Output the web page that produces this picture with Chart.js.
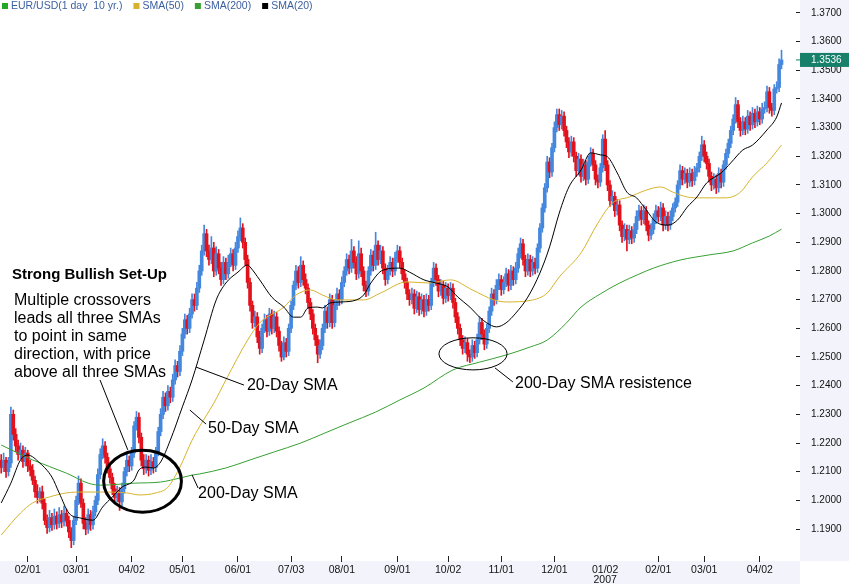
<!DOCTYPE html>
<html><head><meta charset="utf-8">
<script src="https://cdn.jsdelivr.net/npm/chart.js@4.4.1/dist/chart.umd.min.js"></script>
<style>html,body{margin:0;padding:0;background:#fff;overflow:hidden}canvas{display:block}</style>
</head><body>
<canvas id="c" width="849" height="584"></canvas>
<script>
// ---- data (EUR/USD daily candles, index = trading day) ----
const opens = [
1.2140,1.2115,1.2140,1.2100,1.2130,1.2300,1.2230,1.2190,1.2160,1.2175,
1.2135,1.2165,1.2120,1.2105,1.2070,1.2030,1.2010,1.2030,1.1990,1.1930,
1.1905,1.1940,1.1915,1.1945,1.1920,1.1950,1.1925,1.1955,1.1930,1.1890,
1.1860,1.1930,1.2000,1.2060,1.1990,1.1920,1.1900,1.1950,1.1915,1.1960,
1.2000,1.2090,1.2160,1.2190,1.2150,1.2110,1.2080,1.2040,1.2010,1.2030,
1.1995,1.2040,1.2100,1.2140,1.2120,1.2165,1.2260,1.2290,1.2220,1.2140,
1.2110,1.2140,1.2105,1.2135,1.2115,1.2170,1.2240,1.2300,1.2360,1.2330,
1.2380,1.2360,1.2420,1.2470,1.2450,1.2520,1.2580,1.2630,1.2600,1.2650,
1.2700,1.2680,1.2740,1.2800,1.2870,1.2930,1.2870,1.2840,1.2880,1.2800,
1.2860,1.2810,1.2770,1.2830,1.2790,1.2830,1.2860,1.2820,1.2880,1.2920,
1.2950,1.2900,1.2840,1.2760,1.2680,1.2620,1.2640,1.2570,1.2530,1.2600,
1.2630,1.2590,1.2650,1.2600,1.2640,1.2590,1.2540,1.2500,1.2550,1.2520,
1.2600,1.2680,1.2750,1.2800,1.2760,1.2820,1.2770,1.2740,1.2690,1.2650,
1.2600,1.2560,1.2510,1.2540,1.2600,1.2660,1.2620,1.2700,1.2620,1.2680,
1.2720,1.2700,1.2760,1.2800,1.2840,1.2810,1.2870,1.2830,1.2790,1.2860,
1.2800,1.2750,1.2730,1.2800,1.2855,1.2820,1.2890,1.2840,1.2870,1.2810,
1.2770,1.2800,1.2830,1.2800,1.2845,1.2870,1.2830,1.2790,1.2760,1.2720,
1.2700,1.2720,1.2670,1.2710,1.2665,1.2700,1.2660,1.2700,1.2680,1.2760,
1.2810,1.2770,1.2730,1.2750,1.2705,1.2740,1.2715,1.2740,1.2690,1.2640,
1.2600,1.2560,1.2530,1.2550,1.2510,1.2500,1.2540,1.2515,1.2560,1.2620,
1.2580,1.2545,1.2600,1.2660,1.2720,1.2700,1.2750,1.2770,1.2735,1.2760,
1.2790,1.2750,1.2800,1.2770,1.2810,1.2860,1.2895,1.2840,1.2800,1.2840,
1.2800,1.2830,1.2810,1.2880,1.2950,1.3020,1.3090,1.3180,1.3145,1.3230,
1.3300,1.3345,1.3310,1.3340,1.3290,1.3250,1.3215,1.3250,1.3200,1.3150,
1.3190,1.3130,1.3170,1.3120,1.3180,1.3210,1.3170,1.3120,1.3110,1.3160,
1.3260,1.3170,1.3100,1.3045,1.3060,1.3010,1.3030,1.2960,1.2920,1.2945,
1.2910,1.2940,1.2915,1.2945,1.2990,1.3010,1.2980,1.3010,1.2960,1.2925,
1.2945,1.2980,1.3010,1.2990,1.3020,1.2960,1.2990,1.2960,1.2990,1.3020,
1.3040,1.3100,1.3150,1.3120,1.3140,1.3110,1.3140,1.3115,1.3145,1.3160,
1.3200,1.3240,1.3200,1.3175,1.3130,1.3100,1.3120,1.3090,1.3140,1.3110,
1.3170,1.3210,1.3245,1.3290,1.3330,1.3380,1.3320,1.3290,1.3320,1.3295,
1.3340,1.3310,1.3350,1.3320,1.3355,1.3330,1.3365,1.3370,1.3425,1.3370,
1.3360,1.3435,1.3440,1.3520];
const highs = [
1.2160,1.2165,1.2150,1.2150,1.2325,1.2315,1.2250,1.2210,1.2200,1.2190,
1.2185,1.2175,1.2140,1.2125,1.2085,1.2055,1.2045,1.2050,1.2005,1.1950,
1.1965,1.1955,1.1970,1.1960,1.1975,1.1965,1.1980,1.1970,1.1945,1.1905,
1.1945,1.2015,1.2085,1.2075,1.2005,1.1940,1.1970,1.1965,1.1980,1.2015,
1.2110,1.2180,1.2215,1.2205,1.2165,1.2130,1.2095,1.2060,1.2050,1.2045,
1.2060,1.2115,1.2165,1.2155,1.2185,1.2275,1.2310,1.2305,1.2235,1.2160,
1.2160,1.2155,1.2160,1.2150,1.2185,1.2255,1.2320,1.2380,1.2375,1.2400,
1.2395,1.2440,1.2490,1.2485,1.2540,1.2600,1.2650,1.2645,1.2670,1.2720,
1.2720,1.2760,1.2820,1.2890,1.2960,1.2945,1.2890,1.2920,1.2900,1.2885,
1.2875,1.2830,1.2850,1.2845,1.2855,1.2880,1.2875,1.2900,1.2940,1.2985,
1.2965,1.2915,1.2855,1.2775,1.2695,1.2660,1.2655,1.2590,1.2615,1.2650,
1.2645,1.2670,1.2665,1.2660,1.2655,1.2605,1.2555,1.2570,1.2565,1.2615,
1.2695,1.2765,1.2820,1.2815,1.2850,1.2835,1.2790,1.2755,1.2705,1.2665,
1.2615,1.2575,1.2560,1.2615,1.2680,1.2675,1.2720,1.2715,1.2700,1.2740,
1.2735,1.2780,1.2815,1.2860,1.2855,1.2910,1.2885,1.2850,1.2905,1.2880,
1.2815,1.2765,1.2815,1.2875,1.2870,1.2935,1.2905,1.2890,1.2885,1.2825,
1.2820,1.2850,1.2845,1.2865,1.2890,1.2885,1.2845,1.2805,1.2775,1.2735,
1.2740,1.2735,1.2730,1.2725,1.2720,1.2715,1.2720,1.2715,1.2775,1.2830,
1.2825,1.2785,1.2770,1.2765,1.2760,1.2755,1.2760,1.2755,1.2705,1.2655,
1.2615,1.2575,1.2570,1.2565,1.2525,1.2560,1.2555,1.2580,1.2640,1.2635,
1.2595,1.2615,1.2675,1.2740,1.2735,1.2770,1.2790,1.2785,1.2780,1.2810,
1.2805,1.2820,1.2815,1.2830,1.2880,1.2915,1.2910,1.2855,1.2860,1.2855,
1.2850,1.2845,1.2895,1.2965,1.3035,1.3105,1.3200,1.3195,1.3245,1.3320,
1.3365,1.3365,1.3360,1.3355,1.3305,1.3265,1.3270,1.3265,1.3215,1.3210,
1.3205,1.3190,1.3185,1.3200,1.3230,1.3225,1.3185,1.3135,1.3175,1.3275,
1.3290,1.3185,1.3115,1.3080,1.3075,1.3050,1.3045,1.2975,1.2965,1.2960,
1.2960,1.2955,1.2965,1.3010,1.3030,1.3025,1.3030,1.3025,1.2975,1.2965,
1.3000,1.3030,1.3025,1.3040,1.3035,1.3010,1.3005,1.3010,1.3035,1.3055,
1.3115,1.3170,1.3165,1.3160,1.3155,1.3160,1.3155,1.3165,1.3175,1.3215,
1.3270,1.3255,1.3215,1.3190,1.3145,1.3140,1.3135,1.3160,1.3155,1.3185,
1.3225,1.3260,1.3305,1.3345,1.3405,1.3395,1.3335,1.3340,1.3335,1.3360,
1.3355,1.3370,1.3365,1.3375,1.3370,1.3385,1.3390,1.3445,1.3440,1.3385,
1.3450,1.3460,1.3540,1.3570];
const lows = [
1.2095,1.2100,1.2080,1.2085,1.2115,1.2210,1.2170,1.2140,1.2145,1.2115,
1.2120,1.2100,1.2085,1.2055,1.2010,1.1990,1.1995,1.1970,1.1915,1.1885,
1.1890,1.1895,1.1900,1.1900,1.1905,1.1905,1.1910,1.1910,1.1870,1.1835,
1.1845,1.1915,1.1985,1.1975,1.1900,1.1880,1.1885,1.1895,1.1900,1.1945,
1.1985,1.2075,1.2145,1.2130,1.2095,1.2060,1.2020,1.1990,1.1995,1.1965,
1.1980,1.2025,1.2085,1.2100,1.2105,1.2150,1.2245,1.2200,1.2120,1.2090,
1.2095,1.2085,1.2090,1.2095,1.2100,1.2155,1.2225,1.2285,1.2310,1.2315,
1.2340,1.2345,1.2405,1.2430,1.2435,1.2505,1.2565,1.2580,1.2585,1.2635,
1.2660,1.2665,1.2725,1.2785,1.2855,1.2850,1.2820,1.2825,1.2780,1.2785,
1.2790,1.2750,1.2755,1.2770,1.2775,1.2815,1.2800,1.2805,1.2865,1.2905,
1.2880,1.2820,1.2740,1.2660,1.2600,1.2605,1.2550,1.2510,1.2515,1.2585,
1.2570,1.2575,1.2580,1.2585,1.2570,1.2520,1.2485,1.2490,1.2500,1.2505,
1.2585,1.2665,1.2735,1.2740,1.2745,1.2750,1.2720,1.2670,1.2630,1.2580,
1.2540,1.2480,1.2495,1.2525,1.2585,1.2600,1.2605,1.2600,1.2605,1.2665,
1.2680,1.2685,1.2745,1.2785,1.2790,1.2795,1.2810,1.2770,1.2775,1.2780,
1.2730,1.2710,1.2715,1.2785,1.2800,1.2805,1.2820,1.2825,1.2790,1.2750,
1.2755,1.2785,1.2780,1.2785,1.2830,1.2810,1.2770,1.2740,1.2700,1.2680,
1.2685,1.2650,1.2655,1.2645,1.2650,1.2640,1.2645,1.2660,1.2665,1.2745,
1.2750,1.2710,1.2715,1.2685,1.2690,1.2695,1.2700,1.2670,1.2620,1.2580,
1.2540,1.2510,1.2515,1.2485,1.2480,1.2485,1.2495,1.2500,1.2545,1.2560,
1.2525,1.2530,1.2585,1.2645,1.2680,1.2685,1.2735,1.2715,1.2720,1.2745,
1.2730,1.2735,1.2750,1.2755,1.2795,1.2845,1.2820,1.2780,1.2785,1.2780,
1.2785,1.2790,1.2795,1.2865,1.2935,1.3005,1.3075,1.3125,1.3130,1.3215,
1.3285,1.3290,1.3295,1.3270,1.3230,1.3195,1.3200,1.3180,1.3130,1.3135,
1.3110,1.3115,1.3100,1.3105,1.3165,1.3150,1.3100,1.3090,1.3095,1.3145,
1.3150,1.3080,1.3025,1.3030,1.2990,1.2995,1.2940,1.2900,1.2905,1.2870,
1.2895,1.2895,1.2900,1.2930,1.2975,1.2960,1.2965,1.2940,1.2905,1.2910,
1.2930,1.2965,1.2970,1.2975,1.2940,1.2945,1.2940,1.2945,1.2975,1.3005,
1.3025,1.3085,1.3100,1.3105,1.3090,1.3095,1.3095,1.3100,1.3130,1.3145,
1.3185,1.3180,1.3155,1.3110,1.3080,1.3085,1.3070,1.3075,1.3090,1.3095,
1.3155,1.3195,1.3230,1.3275,1.3315,1.3300,1.3270,1.3275,1.3275,1.3280,
1.3290,1.3295,1.3300,1.3305,1.3310,1.3315,1.3350,1.3355,1.3350,1.3340,
1.3345,1.3420,1.3425,1.3505];
const closes = [
1.2115,1.2140,1.2100,1.2130,1.2300,1.2230,1.2190,1.2160,1.2175,1.2135,
1.2165,1.2120,1.2105,1.2070,1.2030,1.2010,1.2030,1.1990,1.1930,1.1905,
1.1940,1.1915,1.1945,1.1920,1.1950,1.1925,1.1955,1.1930,1.1890,1.1860,
1.1930,1.2000,1.2060,1.1990,1.1920,1.1900,1.1950,1.1915,1.1960,1.2000,
1.2090,1.2160,1.2190,1.2150,1.2110,1.2080,1.2040,1.2010,1.2030,1.1995,
1.2040,1.2100,1.2140,1.2120,1.2165,1.2260,1.2290,1.2220,1.2140,1.2110,
1.2140,1.2105,1.2135,1.2115,1.2170,1.2240,1.2300,1.2360,1.2330,1.2380,
1.2360,1.2420,1.2470,1.2450,1.2520,1.2580,1.2630,1.2600,1.2650,1.2700,
1.2680,1.2740,1.2800,1.2870,1.2930,1.2870,1.2840,1.2880,1.2800,1.2860,
1.2810,1.2770,1.2830,1.2790,1.2830,1.2860,1.2820,1.2880,1.2920,1.2950,
1.2900,1.2840,1.2760,1.2680,1.2620,1.2640,1.2570,1.2530,1.2600,1.2630,
1.2590,1.2650,1.2600,1.2640,1.2590,1.2540,1.2500,1.2550,1.2520,1.2600,
1.2680,1.2750,1.2800,1.2760,1.2820,1.2770,1.2740,1.2690,1.2650,1.2600,
1.2560,1.2510,1.2540,1.2600,1.2660,1.2620,1.2700,1.2620,1.2680,1.2720,
1.2700,1.2760,1.2800,1.2840,1.2810,1.2870,1.2830,1.2790,1.2860,1.2800,
1.2750,1.2730,1.2800,1.2855,1.2820,1.2890,1.2840,1.2870,1.2810,1.2770,
1.2800,1.2830,1.2800,1.2845,1.2870,1.2830,1.2790,1.2760,1.2720,1.2700,
1.2720,1.2670,1.2710,1.2665,1.2700,1.2660,1.2700,1.2680,1.2760,1.2810,
1.2770,1.2730,1.2750,1.2705,1.2740,1.2715,1.2740,1.2690,1.2640,1.2600,
1.2560,1.2530,1.2550,1.2510,1.2500,1.2540,1.2515,1.2560,1.2620,1.2580,
1.2545,1.2600,1.2660,1.2720,1.2700,1.2750,1.2770,1.2735,1.2760,1.2790,
1.2750,1.2800,1.2770,1.2810,1.2860,1.2895,1.2840,1.2800,1.2840,1.2800,
1.2830,1.2810,1.2880,1.2950,1.3020,1.3090,1.3180,1.3145,1.3230,1.3300,
1.3345,1.3310,1.3340,1.3290,1.3250,1.3215,1.3250,1.3200,1.3150,1.3190,
1.3130,1.3170,1.3120,1.3180,1.3210,1.3170,1.3120,1.3110,1.3160,1.3260,
1.3170,1.3100,1.3045,1.3060,1.3010,1.3030,1.2960,1.2920,1.2945,1.2910,
1.2940,1.2915,1.2945,1.2990,1.3010,1.2980,1.3010,1.2960,1.2925,1.2945,
1.2980,1.3010,1.2990,1.3020,1.2960,1.2990,1.2960,1.2990,1.3020,1.3040,
1.3100,1.3150,1.3120,1.3140,1.3110,1.3140,1.3115,1.3145,1.3160,1.3200,
1.3240,1.3200,1.3175,1.3130,1.3100,1.3120,1.3090,1.3140,1.3110,1.3170,
1.3210,1.3245,1.3290,1.3330,1.3380,1.3320,1.3290,1.3320,1.3295,1.3340,
1.3310,1.3350,1.3320,1.3355,1.3330,1.3365,1.3370,1.3425,1.3370,1.3360,
1.3435,1.3440,1.3520,1.3536];

// moving averages (trading-day index, value)
const sma20Idx = [0,4,8,11,16,21,24,28,33,38,42,46,50,55,57,60,63,66,70,75,79,84,89,93,98,102,103,107,112,117,121,124,127,131,133,136,141,147,150,153,158,165,169,175,180,185,189,194,198,201,205,209,213,218,223,227,231,235,240,244,248,251,255,259,263,267,271,276,280,284,288,292,298,302,307,311,317,321,323];
const sma20Val = [1.1991,1.2060,1.2141,1.2158,1.2130,1.2081,1.2026,1.1956,1.1938,1.1931,1.1977,1.2012,1.2046,1.2071,1.2106,1.2116,1.2113,1.2134,1.2210,1.2326,1.2420,1.2559,1.2699,1.2758,1.2796,1.2821,1.2814,1.2769,1.2709,1.2674,1.2639,1.2639,1.2671,1.2674,1.2671,1.2688,1.2692,1.2699,1.2716,1.2758,1.2803,1.2810,1.2796,1.2769,1.2758,1.2744,1.2709,1.2674,1.2639,1.2619,1.2605,1.2619,1.2653,1.2709,1.2793,1.2884,1.3002,1.3093,1.3152,1.3212,1.3205,1.3198,1.3142,1.3075,1.3055,1.3013,1.2971,1.2960,1.2978,1.3023,1.3058,1.3107,1.3142,1.3177,1.3222,1.3239,1.3292,1.3337,1.3386];
const sma50Idx = [0,8,13,20,27,34,41,52,57,64,69,74,79,82,88,93,102,107,117,122,128,133,139,150,157,168,177,186,195,204,209,220,226,231,240,247,253,260,267,273,278,284,289,300,306,311,317,323];
const sma50Val = [1.1879,1.1956,1.1991,1.2012,1.2026,1.2029,1.2029,1.2026,1.2019,1.2026,1.2046,1.2116,1.2210,1.2256,1.2339,1.2420,1.2559,1.2619,1.2674,1.2716,1.2734,1.2716,1.2699,1.2699,1.2723,1.2762,1.2758,1.2769,1.2734,1.2699,1.2692,1.2699,1.2723,1.2779,1.2863,1.2967,1.3037,1.3058,1.3082,1.3093,1.3075,1.3058,1.3055,1.3055,1.3075,1.3128,1.3177,1.3239];
const sma200Idx = [0,13,27,36,41,55,66,74,79,82,93,103,113,124,134,144,155,165,175,187,198,209,219,226,234,240,248,256,264,270,281,293,303,311,318,323];
const sma200Val = [1.2193,1.2141,1.2095,1.2060,1.2053,1.2060,1.2064,1.2078,1.2088,1.2092,1.2113,1.2141,1.2169,1.2200,1.2235,1.2270,1.2308,1.2350,1.2392,1.2455,1.2482,1.2507,1.2535,1.2559,1.2619,1.2674,1.2720,1.2758,1.2789,1.2810,1.2838,1.2856,1.2870,1.2898,1.2922,1.2946];

const xTickIdx = [11,31,54,75,98,120,141,164,185,207,229,250,272,291,314];
const xTickLabels = ['02/01','03/01','04/02','05/01','06/01','07/03','08/01','09/01','10/02','11/01','12/01',['01/02','2007'],'02/01','03/01','04/02'];
const yTicks = [1.19,1.20,1.21,1.22,1.23,1.24,1.25,1.26,1.27,1.28,1.29,1.30,1.31,1.32,1.33,1.34,1.35,1.36,1.37];
const legendLabels = ['EUR/USD(1 day  10 yr.)','SMA(50)','SMA(200)','SMA(20)'];

// ---- styles / annotation placement (data coordinates) ----
const UP = '#4487dd', DOWN = '#e2121c';
const C20 = '#000000', C50 = '#d6b32c', C200 = '#36a032';
const FONT = "'Liberation Sans', Arial, sans-serif";
const notes = [
  {t:'Strong Bullish Set-Up', i:4.47, p:1.2786, bold:true},
  {t:'Multiple crossovers', i:5.3, p:1.2695},
  {t:'leads all three SMAs', i:5.3, p:1.2633},
  {t:'to point in same', i:5.3, p:1.2570},
  {t:'direction, with price', i:5.3, p:1.2507},
  {t:'above all three SMAs', i:5.3, p:1.2444},
  {t:'20-Day SMA', i:101.7, p:1.2399},
  {t:'50-Day SMA', i:85.6, p:1.2252},
  {t:'200-Day SMA', i:81.5, p:1.2022},
  {t:'200-Day SMA resistence', i:212.7, p:1.2406}
];
const leaders = [
  [40.9,1.2420, 52.4,1.2176],
  [80.6,1.2465, 100.5,1.2402],
  [78.1,1.2315, 84.8,1.2266],
  [79.0,1.2089, 81.5,1.2043],
  [204.4,1.2462, 211.8,1.2413]
];
const ellipses = [
  {i:58.5, p:1.2067, ri:16.1, rp:0.0108, w:3},
  {i:195.3, p:1.2511, ri:14.1, rp:0.0056, w:1}
];

const candleColor = ctx => closes[ctx.dataIndex] >= opens[ctx.dataIndex] ? UP : DOWN;
const wickData = lows.map((l, i) => ({x: i, y: [l, highs[i]]}));
const bodyData = opens.map((o, i) => ({x: i, y: [o, closes[i]]}));
const lineData = (idx, val) => idx.map((x, k) => ({x, y: val[k]}));

const decor = {
  id: 'decor',
  beforeDraw(chart) {
    const {ctx, chartArea: a, width, height} = chart;
    ctx.save();
    ctx.fillStyle = '#f3f4fb';
    ctx.fillRect(a.right + 4, 0, width - a.right - 4, a.bottom + 5);
    ctx.fillRect(0, a.bottom + 5, a.right + 4, height - a.bottom - 5);
    ctx.restore();
  },
  afterDatasetsDraw(chart) {
    const {ctx} = chart, xs = chart.scales.x, ys = chart.scales.y;
    const X = v => xs.getPixelForValue(v), Y = v => ys.getPixelForValue(v);
    ctx.save();
    ctx.strokeStyle = '#000';
    ellipses.forEach(e => {
      ctx.lineWidth = e.w;
      ctx.beginPath();
      ctx.ellipse(X(e.i), Y(e.p), Math.abs(X(e.i + e.ri) - X(e.i)), Math.abs(Y(e.p + e.rp) - Y(e.p)), 0, 0, Math.PI * 2);
      ctx.stroke();
    });
    ctx.lineWidth = 1;
    leaders.forEach(l => {
      ctx.beginPath();
      ctx.moveTo(X(l[0]), Y(l[1]));
      ctx.lineTo(X(l[2]), Y(l[3]));
      ctx.stroke();
    });
    ctx.fillStyle = '#000';
    ctx.textBaseline = 'middle';
    ctx.textAlign = 'left';
    notes.forEach(n => {
      ctx.font = (n.bold ? 'bold 15px ' : '16px ') + FONT;
      ctx.fillText(n.t, X(n.i), Y(n.p));
    });
    ctx.restore();
  },
  afterDraw(chart) {
    const {ctx, chartArea: a, width} = chart, ys = chart.scales.y;
    ctx.save();
    // legend
    const cols = ['#22a822', C50, C200, '#000'];
    let x = 2;
    ctx.font = '10.5px ' + FONT;
    ctx.textBaseline = 'middle';
    legendLabels.forEach((t, k) => {
      ctx.fillStyle = cols[k];
      ctx.fillRect(x, 3, 6, 6);
      ctx.fillStyle = '#3a5f9f';
      ctx.fillText(t, x + 9, 6.5);
      x += 9 + ctx.measureText(t).width + 11;
    });
    // last price tag
    const last = closes[closes.length - 1];
    const py = ys.getPixelForValue(last);
    ctx.fillStyle = '#16806a';
    ctx.fillRect(a.right + 4, py - 7, width - a.right - 4, 14);
    ctx.fillRect(a.right, py - 0.5, 4, 1);
    ctx.fillStyle = '#fff';
    ctx.font = '10px ' + FONT;
    ctx.fillText(last.toFixed(4), a.right + 15, py + 0.5);
    ctx.restore();
  }
};

new Chart(document.getElementById('c'), {
  type: 'bar',
  data: {
    datasets: [
      {type: 'line', label: 'SMA(20)', data: lineData(sma20Idx, sma20Val), borderColor: C20, borderWidth: 1, pointRadius: 0, cubicInterpolationMode: 'monotone', order: 1},
      {type: 'line', label: 'SMA(50)', data: lineData(sma50Idx, sma50Val), borderColor: C50, borderWidth: 1, pointRadius: 0, cubicInterpolationMode: 'monotone', order: 2},
      {type: 'line', label: 'SMA(200)', data: lineData(sma200Idx, sma200Val), borderColor: C200, borderWidth: 1, pointRadius: 0, cubicInterpolationMode: 'monotone', order: 3},
      {label: 'body', data: bodyData, backgroundColor: candleColor, barThickness: 3, grouped: false, minBarLength: 1, borderWidth: 0, order: 4},
      {label: 'wick', data: wickData, backgroundColor: candleColor, barThickness: 1, grouped: false, borderWidth: 0, order: 5}
    ]
  },
  options: {
    responsive: false,
    animation: false,
    events: [],
    layout: {padding: 0},
    plugins: {legend: {display: false}, tooltip: {enabled: false}},
    scales: {
      x: {
        type: 'linear', min: -0.5, max: 329, offset: false,
        grid: {drawOnChartArea: false, drawTicks: true, tickLength: 6, offset: false,
               tickColor: c => Array.isArray(xTickLabels[c.index]) ? 'rgba(0,0,0,0)' : '#222'},
        border: {display: false},
        ticks: {autoSkip: false, maxRotation: 0, minRotation: 0, padding: 3, color: '#111',
                font: {family: FONT, size: 10.5, lineHeight: 0.95},
                callback: (v, k) => xTickLabels[k]},
        afterBuildTicks: s => { s.ticks = xTickIdx.map(v => ({value: v})); },
        afterFit: s => { s.height = 28; s.paddingLeft = 0; s.paddingRight = 0; }
      },
      y: {
        position: 'right', min: 1.1806, max: 1.3745,
        grid: {drawOnChartArea: false, drawTicks: true, tickLength: 4, color: '#222'},
        border: {display: false},
        ticks: {padding: 11, color: '#111', font: {family: FONT, size: 10}, callback: v => v.toFixed(4)},
        afterBuildTicks: s => { s.ticks = yTicks.map(v => ({value: v})); },
        afterFit: s => { s.width = 53; s.paddingTop = 0; s.paddingBottom = 0; }
      }
    }
  },
  plugins: [decor]
});
</script>
</body></html>
